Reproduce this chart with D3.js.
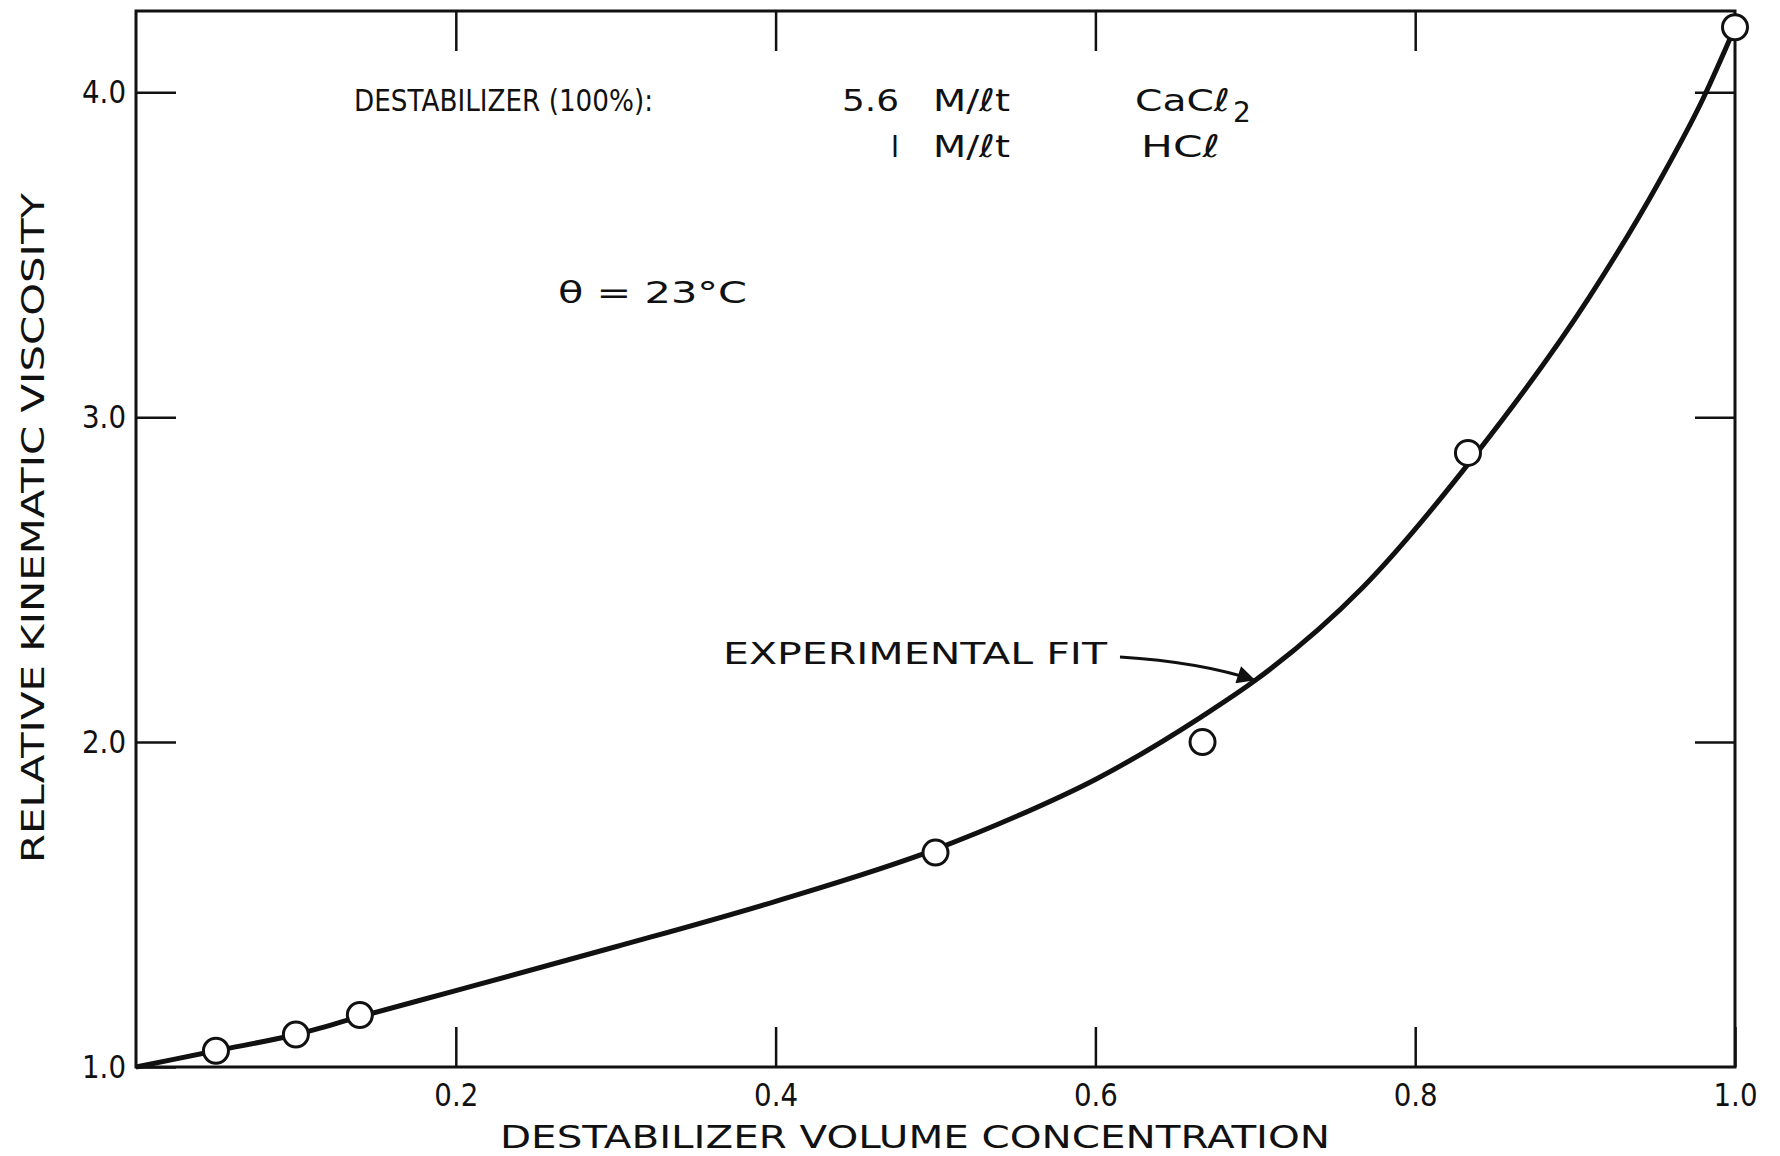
<!DOCTYPE html>
<meta charset="utf-8">
<script src="https://d3js.org/d3.v7.min.js"></script>
<style>
body { margin: 0; background: #fff; }
svg text { font-family: "DejaVu Sans", sans-serif; fill: #111; }
.tick text { font-size: 32px; }
.frame { fill: none; stroke: #111; stroke-width: 3px; }
.fit { fill: none; stroke: #111; stroke-width: 5px; }
.pt { fill: #fff; stroke: #111; stroke-width: 3px; }
</style>
<div id="plot"></div>
<script>

// measured points (destabilizer volume concentration, relative kinematic viscosity)
var conc = [0.05, 0.10, 0.14, 0.50, 0.667, 0.833, 1.00];
var visc = [1.05, 1.10, 1.16, 1.66, 2.00, 2.89, 4.20];

// experimental fit curve
var fitX = [0, 0.05, 0.10, 0.14, 0.20, 0.30, 0.40, 0.50, 0.55, 0.60, 0.667, 0.70, 0.767, 0.837, 0.909, 0.952, 0.98, 1.0];
var fitY = [1.0, 1.05, 1.10, 1.155, 1.235, 1.37, 1.51, 1.67, 1.77, 1.885, 2.08, 2.19, 2.475, 2.88, 3.37, 3.72, 3.98, 4.20];

var xTicks = [0.2, 0.4, 0.6, 0.8, 1.0];
var yTicks = [1.0, 2.0, 3.0, 4.0];

var W = 1780, H = 1156;
var margin = {top: 11, right: 45, bottom: 89, left: 136};
var width = W - margin.left - margin.right,
    height = H - margin.top - margin.bottom;

var svg = d3.select("#plot").append("svg")
    .attr("width", W)
    .attr("height", H)
  .append("g")
    .attr("transform", "translate(" + margin.left + "," + margin.top + ")");

var x = d3.scaleLinear().domain([0, 1]).range([0, width]);
var y = d3.scaleLinear().domain([1, 4.25]).range([height, 0]);

var fmt = d3.format(".1f");

// bottom axis, ticks pointing in
svg.append("g")
    .attr("transform", "translate(0," + height + ")")
    .call(d3.axisBottom(x).tickValues(xTicks).tickFormat(fmt).tickSizeInner(-40).tickSizeOuter(0).tickPadding(16))
    .call(function(g) { g.select(".domain").remove(); });

// top axis, ticks only
svg.append("g")
    .call(d3.axisTop(x).tickValues(xTicks.slice(0, 4)).tickFormat("").tickSizeInner(-40).tickSizeOuter(0))
    .call(function(g) { g.select(".domain").remove(); });

// left axis
svg.append("g")
    .call(d3.axisLeft(y).tickValues(yTicks).tickFormat(fmt).tickSizeInner(-40).tickSizeOuter(0).tickPadding(10))
    .call(function(g) { g.select(".domain").remove(); });

// right axis, ticks only
svg.append("g")
    .attr("transform", "translate(" + width + ",0)")
    .call(d3.axisRight(y).tickValues(yTicks.slice(1)).tickFormat("").tickSizeInner(-40).tickSizeOuter(0))
    .call(function(g) { g.select(".domain").remove(); });

svg.selectAll(".tick line").attr("stroke", "#111").attr("stroke-width", 2.5);
svg.selectAll(".tick text").attr("fill", "#111")
    .attr("textLength", 44).attr("lengthAdjust", "spacingAndGlyphs");

svg.append("rect")
    .attr("class", "frame")
    .attr("width", width)
    .attr("height", height);

// fit line
var fit = fitX.map(function(d, i) { return [d, fitY[i]]; });
svg.append("path")
    .datum(fit)
    .attr("class", "fit")
    .attr("d", d3.line()
        .x(function(d) { return x(d[0]); })
        .y(function(d) { return y(d[1]); })
        .curve(d3.curveMonotoneX));

// data points
svg.selectAll(".pt")
    .data(conc.map(function(d, i) { return [d, visc[i]]; }))
    .enter().append("circle")
    .attr("class", "pt")
    .attr("cx", function(d) { return x(d[0]); })
    .attr("cy", function(d) { return y(d[1]); })
    .attr("r", 12.5);

// axis titles
svg.append("text")
    .attr("x", 500 - margin.left)
    .attr("y", 1148 - margin.top)
    .attr("textLength", 830)
    .attr("lengthAdjust", "spacingAndGlyphs")
    .style("font-size", "32px")
    .text("DESTABILIZER  VOLUME  CONCENTRATION");

svg.append("text")
    .attr("transform", "translate(" + (44 - margin.left) + "," + (528 - margin.top) + ") rotate(-90)")
    .attr("text-anchor", "middle")
    .attr("textLength", 670)
    .attr("lengthAdjust", "spacingAndGlyphs")
    .style("font-size", "32px")
    .text("RELATIVE KINEMATIC VISCOSITY");

// annotations (page coordinates)
var notes = svg.append("g").attr("transform", "translate(" + (-margin.left) + "," + (-margin.top) + ")");

function note(txt, px, py, len) {
  return notes.append("text")
      .attr("x", px).attr("y", py)
      .attr("textLength", len)
      .attr("lengthAdjust", "spacingAndGlyphs")
      .style("font-size", "31px")
      .text(txt);
}

note("DESTABILIZER (100%):", 354, 111, 299);
note("5.6", 842, 111, 57);
note("M/ℓt", 933, 111, 77);
note("CaCℓ", 1135, 111, 95);
notes.append("text").attr("x", 1233).attr("y", 122).style("font-size", "28px").text("2");
note("I", 891, 157, 8);
note("M/ℓt", 933, 157, 77);
note("HCℓ", 1141, 157, 79);
note("θ = 23°C", 558, 303, 189);
note("EXPERIMENTAL  FIT", 723, 664, 384);

// arrow to the fit line
svg.append("defs").append("marker")
    .attr("id", "head")
    .attr("viewBox", "0 0 10 10")
    .attr("refX", 10).attr("refY", 5)
    .attr("markerWidth", 9).attr("markerHeight", 6)
    .attr("markerUnits", "strokeWidth")
    .attr("orient", "auto")
  .append("path")
    .attr("d", "M0,0L10,5L0,10Z")
    .attr("fill", "#111");

svg.append("path")
    .attr("d", "M" + (1120 - margin.left) + "," + (657 - margin.top) +
               "Q" + (1200 - margin.left) + "," + (662 - margin.top) + " " +
               x(0.70) + "," + y(2.19))
    .attr("fill", "none")
    .attr("stroke", "#111")
    .attr("stroke-width", 3)
    .attr("marker-end", "url(#head)");

</script>
